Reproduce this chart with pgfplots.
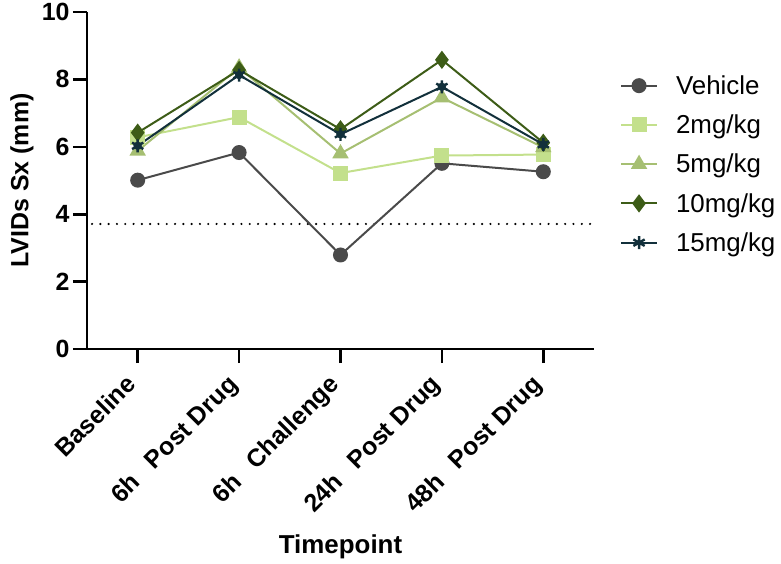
\documentclass[border=0pt]{standalone}
\usepackage{fontspec}
\setmainfont{Liberation Sans}
\usepackage{pgfplots}
\pgfplotsset{compat=1.18}

\definecolor{cveh}{HTML}{4A4A4A}
\definecolor{ctwo}{HTML}{C3E08C}
\definecolor{cfive}{HTML}{A6BF72}
\definecolor{cten}{HTML}{3D5C17}
\definecolor{cfifteen}{HTML}{12303B}

\pgfplotsset{
  series/.style={line width=2bp, color=#1, mark options={solid, fill=#1, draw=#1}},
}
\newcommand{\gap}{\hspace{0.75em}}

\begin{document}
\begin{tikzpicture}
\path[use as bounding box] (-87bp,-215bp) rectangle (694bp,349bp);
\begin{axis}[
  at={(0,0)}, anchor=south west,
  scale only axis, width=507bp, height=337bp,
  xmin=-0.5, xmax=4.5, ymin=0, ymax=10,
  clip=false,
  axis x line*=bottom, axis y line*=left,
  axis line style={line width=2.6bp, black},
  every tick/.style={line width=2.6bp, black},
  tick align=outside, major tick length=14bp,
  xtick={0,1,2,3,4},
  xticklabels={Baseline, 6h\gap Post Drug, 6h\gap Challenge, 24h\gap Post Drug, 48h\gap Post Drug},
  x tick label style={rotate=45, anchor=base east, font=\fontsize{25}{28}\selectfont\bfseries, inner sep=0pt},
  xticklabel shift=23bp,
  ytick={0,2,4,6,8,10},
  y tick label style={font=\fontsize{25}{28}\selectfont\bfseries},
  /pgf/number format/assume math mode=true,
  xlabel={Timepoint},
  xlabel style={at={(axis description cs:0.5,0)}, anchor=base, yshift=-204bp, font=\fontsize{26}{30}\selectfont\bfseries},
  ylabel={LVIDs Sx (mm)},
  ylabel style={at={([xshift=-65bp]axis description cs:0,0.5)}, anchor=center, font=\fontsize{25}{30}\selectfont\bfseries},
  legend style={draw=none, fill=none, at={(1.051,0.818)}, anchor=north west, inner sep=0pt,
    font=\fontsize{26}{30}\selectfont, row sep=15bp, cells={anchor=west},
    /tikz/every odd column/.append style={column sep=16bp}},
  legend cell align=left,
  legend image code/.code={\draw[mark repeat=2, mark phase=2] plot coordinates {(0bp,0bp) (18bp,0bp) (36bp,0bp)};},
]
\addplot[black, line width=2.4bp, line cap=round, dash pattern=on 0bp off 8.3bp, forget plot]
  coordinates {(-0.45,3.71) (4.5,3.71)};

\addplot[series=cveh, mark=*, mark size=6.5bp] coordinates {
  (0,5.01) (1,5.83) (2,2.79) (3,5.51) (4,5.26)};
\addplot[series=ctwo, mark=square*, mark size=6.5bp] coordinates {
  (0,6.28) (1,6.88) (2,5.22) (3,5.74) (4,5.77)};
\addplot[series=cfive, mark=triangle*, mark size=7.5bp] coordinates {
  (0,5.88) (1,8.35) (2,5.80) (3,7.46) (4,5.98)};
\addplot[series=cten, mark=diamond*, mark size=7.5bp] coordinates {
  (0,6.42) (1,8.28) (2,6.52) (3,8.58) (4,6.12)};
\addplot[series=cfifteen, mark=asterisk, mark size=6.5bp, mark options={line width=2.4bp}] coordinates {
  (0,6.03) (1,8.13) (2,6.37) (3,7.78) (4,6.07)};
\addplot[cfifteen, only marks, mark=*, mark size=4bp, forget plot] coordinates {
  (0,6.03) (1,8.13) (2,6.37) (3,7.78) (4,6.07)};
\legend{Vehicle, 2mg/kg, 5mg/kg, 10mg/kg, 15mg/kg}
\end{axis}
\end{tikzpicture}
\end{document}
